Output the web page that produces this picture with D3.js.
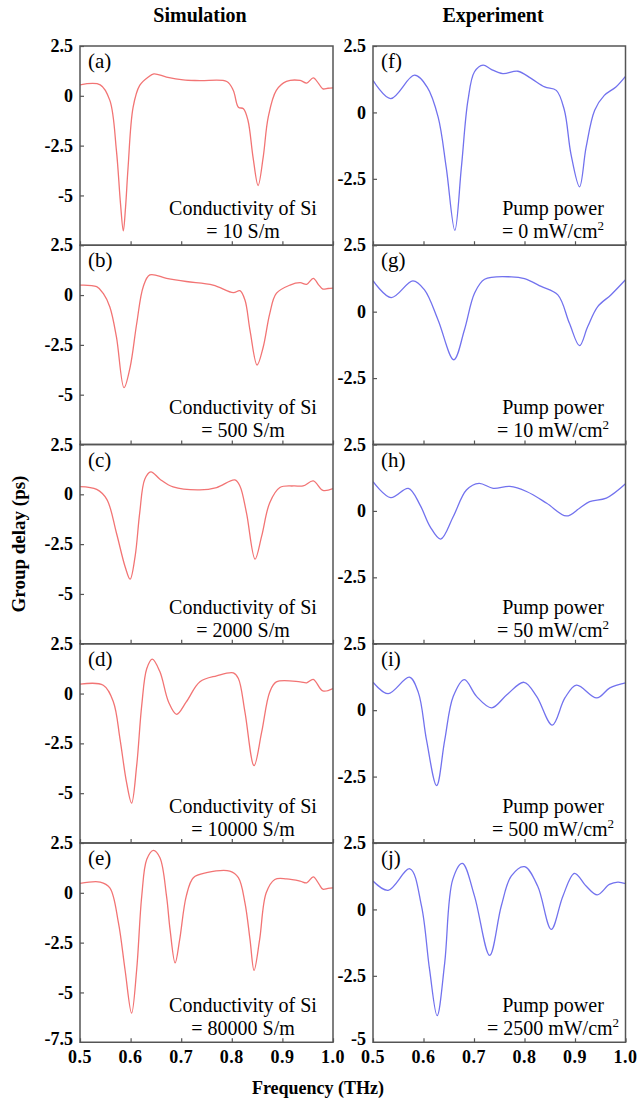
<!DOCTYPE html>
<html><head><meta charset="utf-8">
<script src="https://cdn.jsdelivr.net/npm/d3@7"></script>
<style>
html,body{margin:0;padding:0;background:#fff;}
svg{display:block;font-family:"Liberation Serif","Times New Roman",serif;}
</style></head>
<body><svg id="chart" width="638" height="1103"></svg>
<script>
// ---------- data ----------
const xTicks = [0.5, 0.6, 0.7, 0.8, 0.9, 1.0];
const xTickLabels = ["0.5", "0.6", "0.7", "0.8", "0.9", "1.0"];
const simTicks = [2.5, 0, -2.5, -5];
const simTickLabels = ["2.5", "0", "-2.5", "-5"];
const expTicks = [2.5, 0, -2.5];
const expTickLabels = ["2.5", "0", "-2.5"];

const simA_f = [0.5,0.54,0.559,0.572,0.58,0.5856,0.59,0.595,0.605,0.618,0.635,0.646,0.671,0.704,0.737,0.79,0.803,0.813,0.823,0.832,0.842,0.852,0.862,0.872,0.888,0.908,0.935,0.948,0.961,0.972,0.98,0.99,1.0];
const simA_d = [0.55,0.55,-0.23,-2.75,-5.4,-6.78,-5.6,-3.6,-0.57,0.52,0.94,1.1,0.94,0.8,0.76,0.72,0.27,-0.57,-0.65,-1.24,-3.09,-4.5,-3.09,-1.07,0.27,0.72,0.77,0.64,0.9,0.6,0.35,0.38,0.4];

const simB_f = [0.5,0.533,0.546,0.559,0.572,0.587,0.599,0.612,0.625,0.638,0.671,0.71,0.763,0.803,0.816,0.826,0.836,0.85,0.862,0.875,0.888,0.915,0.935,0.948,0.961,0.972,0.98,0.99,1.0];
const simB_d = [0.5,0.42,0.08,-0.6,-2.1,-4.65,-3.63,-1.44,0.42,1.01,0.84,0.68,0.5,0.12,0.22,-0.25,-1.77,-3.51,-2.62,-0.93,0.08,0.5,0.62,0.54,0.84,0.5,0.3,0.33,0.35];

const simC_f = [0.5,0.533,0.553,0.572,0.589,0.599,0.609,0.618,0.628,0.64,0.658,0.684,0.737,0.77,0.806,0.816,0.829,0.846,0.859,0.875,0.895,0.922,0.941,0.961,0.98,1.0];
const simC_d = [0.39,0.25,-0.25,-1.94,-3.62,-4.26,-3.1,-0.93,0.76,1.13,0.76,0.37,0.22,0.34,0.72,0.42,-0.93,-3.25,-2.1,-0.42,0.34,0.42,0.42,0.67,0.2,0.29];

const simD_f = [0.5,0.546,0.566,0.579,0.592,0.602,0.612,0.622,0.632,0.643,0.658,0.675,0.691,0.71,0.737,0.77,0.803,0.813,0.826,0.844,0.859,0.875,0.888,0.935,0.948,0.961,0.98,1.0];
const simD_d = [0.47,0.42,-0.42,-2.27,-4.46,-5.5,-3.62,-0.59,1.26,1.73,1.09,-0.42,-1.04,-0.42,0.59,0.89,1.04,0.76,-0.93,-3.62,-1.94,0.08,0.59,0.59,0.54,0.71,0.13,0.25];

const simE_f = [0.5,0.54,0.559,0.576,0.589,0.602,0.612,0.622,0.632,0.645,0.658,0.671,0.678,0.688,0.697,0.71,0.724,0.75,0.796,0.813,0.826,0.836,0.844,0.855,0.868,0.885,0.908,0.935,0.948,0.961,0.972,0.98,0.99,1.0];
const simE_d = [0.47,0.54,0.25,-1.51,-3.86,-6.04,-3.86,-0.17,1.68,2.13,1.76,-0.17,-1.85,-3.52,-2.35,-0.17,0.76,1.01,1.09,0.76,-0.5,-2.35,-3.89,-2.35,0.0,0.67,0.7,0.59,0.5,0.8,0.45,0.18,0.22,0.25];

const expF_f = [0.5,0.535,0.582,0.607,0.629,0.645,0.662,0.675,0.688,0.701,0.718,0.734,0.757,0.787,0.813,0.84,0.863,0.879,0.892,0.909,0.922,0.939,0.958,0.981,1.0];
const expF_d = [1.21,0.52,1.4,0.96,-0.18,-2.07,-4.44,-2.07,0.45,1.53,1.78,1.62,1.46,1.55,1.28,0.96,0.83,0.08,-1.57,-2.8,-1.31,0.08,0.64,0.96,1.36];

const expG_f = [0.5,0.536,0.579,0.602,0.629,0.66,0.681,0.701,0.721,0.774,0.8,0.833,0.866,0.889,0.909,0.925,0.945,0.971,1.0];
const expG_d = [1.17,0.53,1.16,0.82,-0.32,-1.81,-0.69,0.69,1.22,1.31,1.24,0.95,0.63,-0.44,-1.28,-0.57,0.19,0.63,1.2];

const expH_f = [0.5,0.535,0.57,0.593,0.613,0.634,0.659,0.685,0.71,0.738,0.771,0.804,0.844,0.883,0.909,0.929,0.962,1.0];
const expH_d = [1.1,0.5,0.85,0.23,-0.59,-1.06,-0.21,0.79,1.04,0.85,0.92,0.73,0.29,-0.19,0.1,0.35,0.48,1.02];

const expI_f = [0.5,0.53,0.572,0.59,0.606,0.626,0.642,0.659,0.681,0.705,0.735,0.765,0.799,0.824,0.855,0.88,0.903,0.943,0.969,1.0];
const expI_d = [1.05,0.62,1.24,0.65,-1.13,-2.84,-1.13,0.52,1.15,0.52,0.09,0.58,1.05,0.52,-0.56,0.46,0.94,0.46,0.84,1.03];

const expJ_f = [0.5,0.53,0.573,0.596,0.612,0.627,0.642,0.658,0.677,0.701,0.731,0.754,0.774,0.8,0.826,0.853,0.876,0.899,0.922,0.944,0.968,0.985,1.0];
const expJ_d = [1.07,0.72,1.53,0.13,-2.26,-4.0,-2.01,1.13,1.73,0.5,-1.73,0.13,1.26,1.61,0.88,-0.75,0.5,1.36,0.88,0.55,0.94,1.03,0.97];

const panelLabels = ["(a)","(b)","(c)","(d)","(e)","(f)","(g)","(h)","(i)","(j)"];
const simValues = ["= 10 S/m","= 500 S/m","= 2000 S/m","= 10000 S/m","= 80000 S/m"];
const expValues = ["0","10","50","500","2500"];

// ---------- layout ----------
const svg = d3.select("#chart");
const cols = [{x0:80, x1:333}, {x0:373, x1:625.5}];
const top0 = 46, panelH = 199.25;
const simColor = "#f27474", expColor = "#7272ee";
const frameColor = "#555";

const simSeries = [[simA_f,simA_d],[simB_f,simB_d],[simC_f,simC_d],[simD_f,simD_d],[simE_f,simE_d]];
const expSeries = [[expF_f,expF_d],[expG_f,expG_d],[expH_f,expH_d],[expI_f,expI_d],[expJ_f,expJ_d]];

function drawPanel(col, row, series, yDomain, ticks, tickLabels, lastLabel, color, label, note1, note2, sup) {
  const c = cols[col];
  const y0 = top0 + row*panelH, y1 = y0 + panelH;
  const x = d3.scaleLinear().domain([0.5, 1.0]).range([c.x0, c.x1]);
  const y = d3.scaleLinear().domain(yDomain).range([y1, y0]);
  const g = svg.append("g");

  // curve
  const pts = series[0].map((f,i)=>[f, series[1][i]]);
  const clipId = "clip"+col+"_"+row;
  g.append("clipPath").attr("id", clipId).append("rect")
    .attr("x", c.x0).attr("y", y0).attr("width", c.x1-c.x0).attr("height", panelH);
  g.append("path").datum(pts)
    .attr("clip-path", "url(#"+clipId+")")
    .attr("fill","none").attr("stroke", color).attr("stroke-width", 1.3)
    .attr("d", d3.line().x(d=>x(d[0])).y(d=>y(d[1])).curve(d3.curveCatmullRom.alpha(0.5)));

  // x axis ticks (inward)
  const xAxis = d3.axisBottom(x).tickValues(xTicks).tickSize(-4).tickFormat("");
  const gx = g.append("g").attr("transform", `translate(0,${y1})`).call(xAxis);
  gx.select(".domain").remove();
  gx.selectAll("line").attr("stroke", frameColor).attr("stroke-width", 1.2);

  // y axis ticks inward
  const yAxis = d3.axisLeft(y).tickValues(ticks).tickSize(-4).tickFormat("");
  const gy = g.append("g").attr("transform", `translate(${c.x0},0)`).call(yAxis);
  gy.select(".domain").remove();
  gy.selectAll("line").attr("stroke", frameColor).attr("stroke-width", 1.2);

  // y tick labels
  const labs = ticks.map((t,i)=>({v:t, s:tickLabels[i], last:false}));
  if (lastLabel) labs.push({v:yDomain[0], s:lastLabel, last:true});
  g.selectAll("text.yl").data(labs).enter().append("text")
    .attr("x", c.x0 - 7).attr("y", d=>y(d.v) - (d.last ? 3 : 0)).attr("dy","0.34em")
    .attr("text-anchor","end").attr("font-weight","bold").attr("font-size","18px")
    .text(d=>d.s);

  // frame
  g.append("rect").attr("x", c.x0).attr("y", y0).attr("width", c.x1-c.x0).attr("height", panelH)
    .attr("fill","none").attr("stroke", frameColor).attr("stroke-width", 1.5);

  // panel label
  g.append("text").attr("x", c.x0 + 8).attr("y", y0 + 22).attr("font-size","21px").text(label);

  // annotation
  const cx = col === 0 ? c.x0 + 163 : c.x0 + 180;
  g.append("text").attr("x", cx).attr("y", y0 + 169).attr("text-anchor","middle")
    .attr("font-size","20px").text(note1);
  const t2 = g.append("text").attr("x", cx).attr("y", y0 + 192).attr("text-anchor","middle")
    .attr("font-size","20px");
  if (sup) {
    t2.append("tspan").text(note2);
    t2.append("tspan").attr("font-size","13px").attr("dy","-8").text("2");
  } else {
    t2.text(note2);
  }
  return x;
}

let xs0, xs1;
simSeries.forEach((s,i)=>{
  xs0 = drawPanel(0, i, s, [-7.5, 2.5], simTicks, simTickLabels, i===4 ? "-7.5" : null,
    simColor, panelLabels[i], "Conductivity of Si", simValues[i], false);
});
expSeries.forEach((s,i)=>{
  xs1 = drawPanel(1, i, s, [-5, 2.5], expTicks, expTickLabels, i===4 ? "-5" : null,
    expColor, panelLabels[5+i], "Pump power", "= " + expValues[i] + " mW/cm", true);
});

// x tick labels under last row
const yBottom = top0 + 5*panelH;
[xs0, xs1].forEach(x=>{
  svg.selectAll(null).data(xTicks).enter().append("text")
    .attr("x", d=>x(d)).attr("y", yBottom + 21)
    .attr("text-anchor","middle").attr("font-weight","bold").attr("font-size","18px")
    .attr("letter-spacing","0.5px")
    .text((d,i)=>xTickLabels[i]);
});

// titles
svg.append("text").attr("x", 200).attr("y", 22).attr("text-anchor","middle")
  .attr("font-weight","bold").attr("font-size","20px").text("Simulation");
svg.append("text").attr("x", 493).attr("y", 22).attr("text-anchor","middle")
  .attr("font-weight","bold").attr("font-size","20px").text("Experiment");
svg.append("text").attr("x", 318).attr("y", 1094).attr("text-anchor","middle")
  .attr("font-weight","bold").attr("font-size","18px").text("Frequency (THz)");
svg.append("text").attr("transform","translate(25,544) rotate(-90)").attr("text-anchor","middle")
  .attr("font-weight","bold").attr("font-size","19px").text("Group delay (ps)");
</script></body></html>
